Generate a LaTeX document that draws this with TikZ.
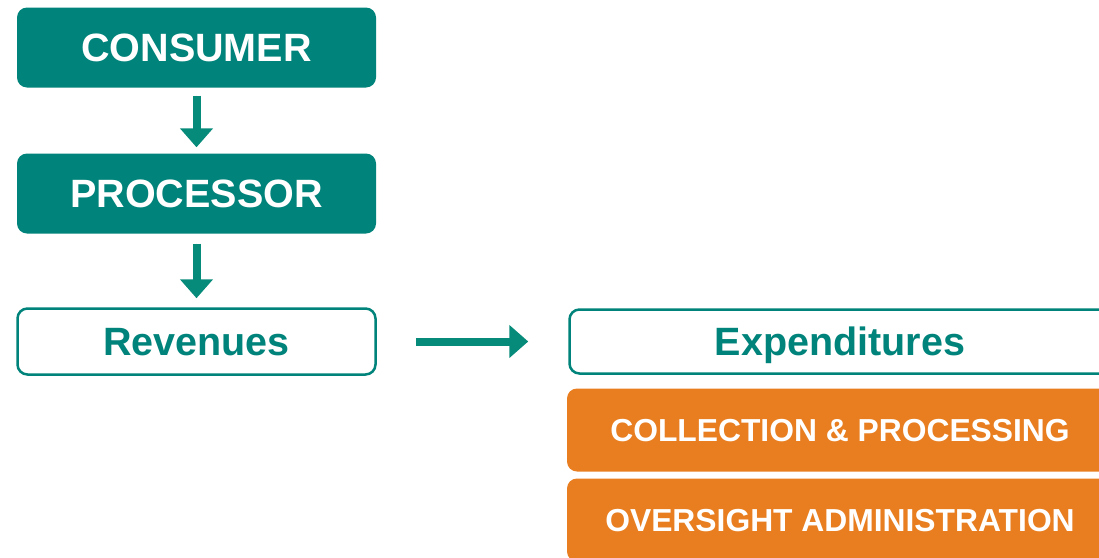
\documentclass[tikz,border=0pt]{standalone}
\usepackage{fontspec}
\setmainfont{Liberation Sans}
\usetikzlibrary{arrows.meta}
\definecolor{tealc}{RGB}{0,131,122}
\definecolor{arrowc}{RGB}{6,139,122}
\definecolor{orangec}{RGB}{232,126,32}
\tikzset{
  solidbox/.style={fill=tealc, draw=none, rounded corners=10pt, text=white, text depth=0pt,
    font=\fontsize{39.5}{45}\selectfont\bfseries, inner sep=0pt},
  outlinebox/.style={fill=white, draw=tealc, line width=2.5pt, rounded corners=10pt, text=tealc, text depth=0pt,
    font=\fontsize{39.5}{45}\selectfont\bfseries, inner sep=0pt},
  orangebox/.style={fill=orangec, draw=none, rounded corners=10pt, text=white, text depth=0pt,
    font=\fontsize{31.8}{36}\selectfont\bfseries, inner sep=0pt},
  flowarrow/.style={draw=arrowc, line width=8pt, -{Triangle[width=32pt,length=19pt]}, fill=arrowc},
}
\begin{document}
\begin{tikzpicture}[x=1pt,y=-1pt]
\useasboundingbox (0,0) rectangle (1099,557);
\clip (0,0) rectangle (1099,557);
\node[solidbox, minimum width=359pt, minimum height=80pt] (consumer) at (196.5,47.5) {CONSUMER};
\node[solidbox, minimum width=359pt, minimum height=80pt] (processor) at (196.5,193.5) {PROCESSOR};
\node[outlinebox, minimum width=358pt, minimum height=66pt] (revenues) at (196.5,341.5) {Revenues};
\node[outlinebox, minimum width=541pt, minimum height=64pt] (expend) at (840,341.5) {Expenditures};
\node[orangebox, minimum width=546pt, minimum height=83pt] (collect) at (840,430) {COLLECTION \& PROCESSING};
\node[orangebox, minimum width=546pt, minimum height=83pt] (oversight) at (840,520) {OVERSIGHT ADMINISTRATION};
\draw[flowarrow, shorten <=8pt, shorten >=6pt] (consumer.south) -- (processor.north);
\draw[flowarrow, shorten <=10pt, shorten >=9pt] (processor.south) -- (revenues.north);
\draw[flowarrow, shorten <=39pt, shorten >=40pt] (revenues.east) -- (expend.west);
\end{tikzpicture}
\end{document}
